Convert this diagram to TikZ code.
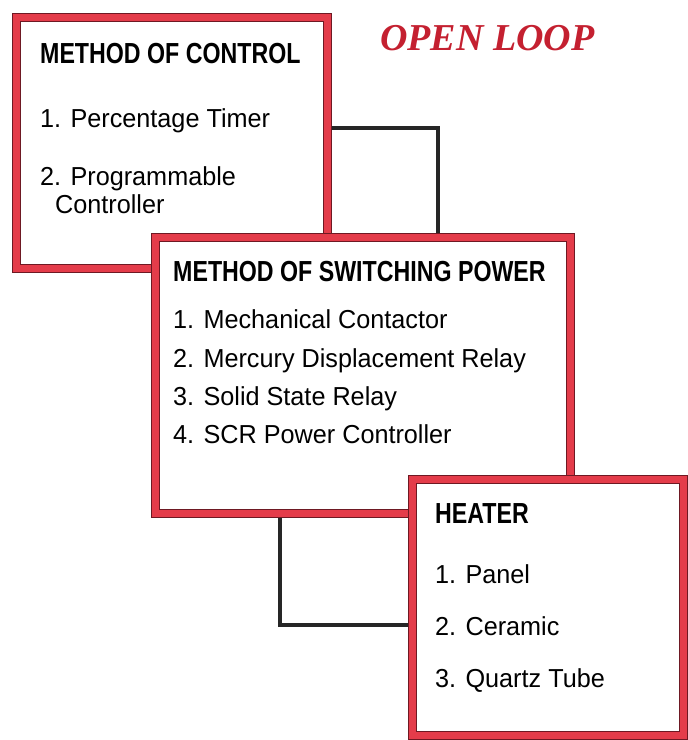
\documentclass[tikz,border=0pt]{standalone}
\usepackage{fontspec}
\setmainfont{Liberation Sans}
\newfontfamily\headfont[FakeStretch=0.8]{Liberation Sans}
\newfontfamily\itemfont[FakeStretch=0.97]{Liberation Sans}
\newfontfamily\titlefont{Liberation Serif}
\usetikzlibrary{positioning, backgrounds}
\definecolor{boxred}{RGB}{228,60,74}
\definecolor{boxedge}{RGB}{110,25,35}
\definecolor{titlered}{RGB}{196,32,48}

\begin{document}
\begin{tikzpicture}[x=1pt, y=-1pt,
    panel/.style={rectangle, draw=boxedge, double=boxred, double distance=7pt,
                  line width=1pt, fill=white, inner sep=0pt, outer sep=0pt, anchor=north west},
    head/.style={anchor=base west, inner sep=0pt, font=\headfont\bfseries\fontsize{29}{32}\selectfont},
    item/.style={anchor=base west, inner sep=0pt, font=\itemfont\fontsize{26}{29}\selectfont},
    wire/.style={draw=black!85, line width=4pt}
  ]
    \useasboundingbox (0,0) rectangle (688,740);

    \node[panel, minimum width=311pt, minimum height=251pt] (ctl)  at (16,17)   {};
    \node[panel, minimum width=415pt, minimum height=276pt] (sw)   at (155,237) {};
    \node[panel, minimum width=271pt, minimum height=256pt] (heat) at (412,479) {};

    \begin{scope}[on background layer]
      \draw[wire] ([yshift=14.5pt]ctl.east) -| ([xshift=75.5pt]sw.north);
      \draw[wire] ([xshift=-82.5pt]sw.south) |- ([yshift=-18pt]heat.west);
    \end{scope}

    \node[anchor=base west, inner sep=0pt, text=titlered,
          font=\titlefont\bfseries\itshape\fontsize{38}{40}\selectfont] (title) at (380,50) {OPEN LOOP};

    \node[head] (ctlhead) at (40,63)  {METHOD OF CONTROL};
    \node[item] (c1)      at (40,127) {1. Percentage Timer};
    \node[item] (c2)      at (40,185) {2. Programmable};
    \node[item] (c2b)     at (55,213) {Controller};

    \node[head] (swhead) at (173,281) {METHOD OF SWITCHING POWER};
    \node[item] (s1)     at (173,328) {1. Mechanical Contactor};
    \node[item] (s2)     at (173,367) {2. Mercury Displacement Relay};
    \node[item] (s3)     at (173,405) {3. Solid State Relay};
    \node[item] (s4)     at (173,443) {4. SCR Power Controller};

    \node[head] (hthead) at (435,523) {HEATER};
    \node[item] (h1)     at (435,583) {1. Panel};
    \node[item] (h2)     at (435,635) {2. Ceramic};
    \node[item] (h3)     at (435,687) {3. Quartz Tube};
  \end{tikzpicture}
\end{document}
